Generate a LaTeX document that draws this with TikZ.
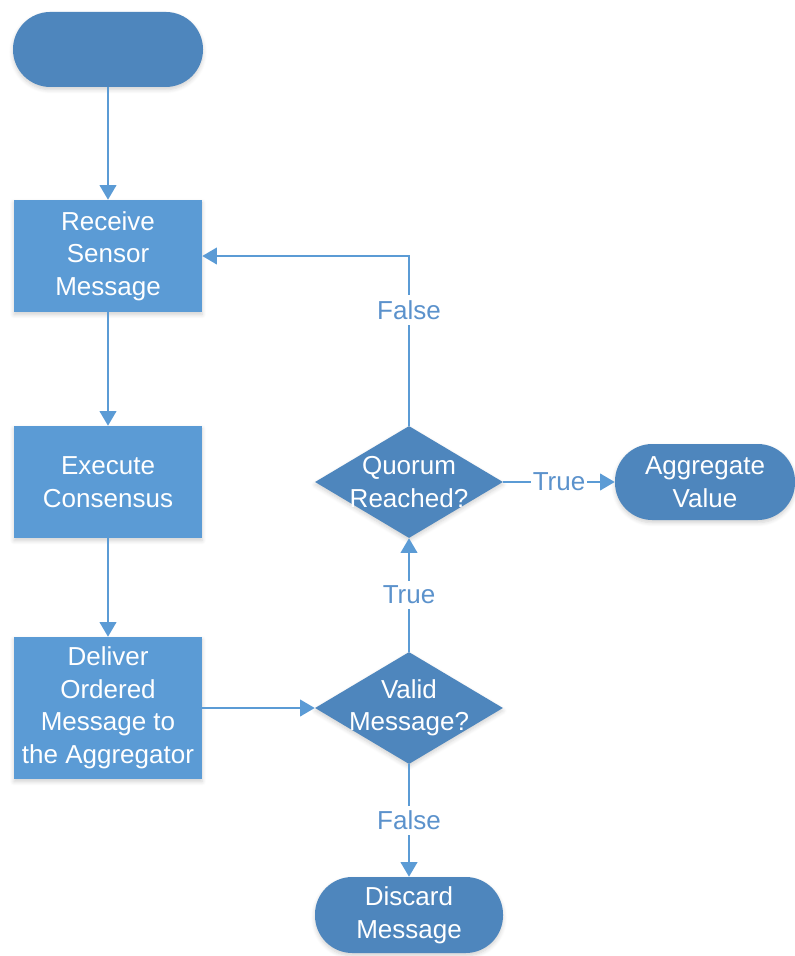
\documentclass[tikz,border=0pt]{standalone}
\usepackage{fontspec}
\setmainfont{Liberation Sans}
\usetikzlibrary{arrows.meta,shapes.geometric,shadows.blur}

\definecolor{boxblue}{HTML}{5B9BD5}
\definecolor{termblue}{HTML}{4E86BD}
\definecolor{lineblue}{HTML}{5B9BD5}
\definecolor{labelblue}{HTML}{5B92CC}

\tikzset{
  txt/.style={font=\fontsize{19.5}{24.4}\selectfont, text=white, align=center},
  softshadow/.style={blur shadow={shadow xshift=0pt, shadow yshift=-2pt, shadow opacity=18, shadow blur steps=6, shadow blur radius=3pt}},
  process/.style={txt, rectangle, fill=boxblue, draw=none, minimum width=141pt, minimum height=84pt, inner sep=0pt, softshadow},
  terminal/.style={txt, rectangle, rounded corners=28pt, fill=termblue, draw=none, minimum width=141pt, minimum height=57pt, inner sep=0pt, softshadow},
  decision/.style={diamond, fill=termblue, draw=none, minimum width=141pt, minimum height=84pt, inner sep=0pt, softshadow},
  flow/.style={draw=lineblue, line width=1.5pt, -{Triangle[length=11pt,width=12.5pt]}},
  edgelabel/.style={font=\fontsize{19.5}{22}\selectfont, text=labelblue, fill=white, inner xsep=1pt, inner ysep=4pt},
}

\begin{document}
\begin{tikzpicture}
  \useasboundingbox (0,0) rectangle (596.25pt,-717pt);

  % left column
  \node[terminal, minimum width=142.5pt, minimum height=56.25pt] (start) at (81pt,-37.1pt) {};
  \node[process] (recv) at (81pt,-192pt) {Receive\\Sensor\\Message};
  \node[process] (exec) at (81pt,-361.5pt) {Execute\\Consensus};
  \node[process, minimum height=106.5pt] (deliver) at (81pt,-531pt) {Deliver\\Ordered\\Message to\\the Aggregator};

  % decisions
  \node[decision] (valid) at (306.75pt,-531pt) {};
  \node[txt] (validtxt) at (valid) {Valid\\Message?};
  \node[decision] (quorum) at (306.75pt,-361.5pt) {};
  \node[txt] (quorumtxt) at (quorum) {Quorum\\Reached?};

  % outcomes
  \node[terminal, minimum width=135pt] (aggregate) at (528.75pt,-361.5pt) {Aggregate\\Value};
  \node[terminal] (discard) at (306.75pt,-686.25pt) {Discard\\Message};

  % connectors
  \draw[flow] (start) -- (recv);
  \draw[flow] (recv) -- (exec);
  \draw[flow] (exec) -- (deliver);
  \draw[flow] (deliver) -- (valid);
  \draw[flow] (valid) -- node[edgelabel] {True} (quorum);
  \draw[flow] (valid) -- node[edgelabel] {False} (discard);
  \draw[flow] (quorum) -- node[edgelabel, inner ysep=1pt] {True} (aggregate);
  \draw[flow] (quorum.north) |- node[edgelabel, pos=0.34] {False} (recv.east);
\end{tikzpicture}
\end{document}
